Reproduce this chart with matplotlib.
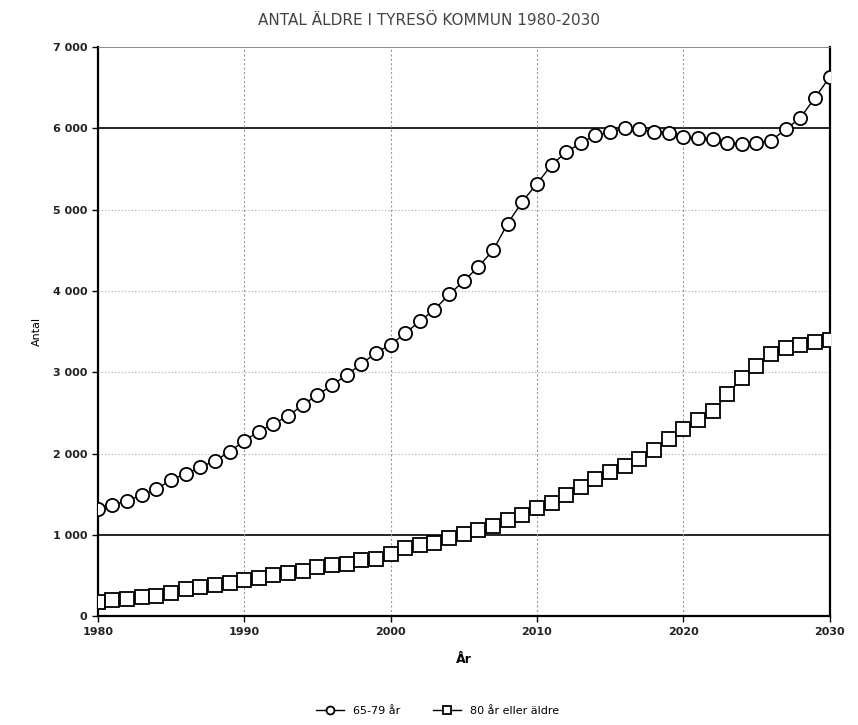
import numpy as np
import matplotlib.pyplot as plt

# antal invånare per år
years = np.arange(1980, 2031)
age_65_79 = [1320, 1370, 1420, 1490, 1560, 1680, 1750, 1830, 1915, 2020,
             2160, 2270, 2370, 2460, 2600, 2720, 2840, 2970, 3100, 3240,
             3340, 3480, 3630, 3770, 3960, 4120, 4300, 4500, 4830, 5100,
             5320, 5550, 5710, 5820, 5920, 5950, 6000, 5990, 5960, 5940,
             5890, 5880, 5870, 5820, 5810, 5820, 5850, 5990, 6130, 6380,
             6630]
age_80 = [170, 195, 210, 235, 255, 285, 330, 360, 390, 410,
          440, 465, 505, 530, 560, 610, 630, 640, 690, 710,
          770, 840, 875, 900, 960, 1010, 1060, 1110, 1185, 1245,
          1330, 1395, 1495, 1595, 1690, 1780, 1850, 1935, 2050, 2180,
          2300, 2410, 2520, 2730, 2930, 3080, 3230, 3300, 3340, 3370,
          3400]

title = 'ANTAL ÄLDRE I TYRESÖ KOMMUN 1980-2030'
labels = ['65-79 år', '80 år eller äldre']
xticks = [1980, 1990, 2000, 2010, 2020, 2030]
yticks = [0, 1000, 2000, 3000, 4000, 5000, 6000, 7000]
solid_grid = [1000, 6000]

fig = plt.figure(figsize=(8.58, 7.25), dpi=100)
ax = fig.add_axes([0.114, 0.150, 0.853, 0.785])

for y in yticks[1:-1]:
    if y in solid_grid:
        ax.axhline(y, color='black', lw=1.2, zorder=1)
    else:
        ax.axhline(y, color='#aaaaaa', lw=0.8, ls=(0, (1, 2)), zorder=1)
for x in xticks[1:-1]:
    ax.axvline(x, color='#999999', lw=0.8, ls=(0, (2, 2)), zorder=1)

ax.plot(years, age_65_79, '-', color='black', lw=1.0, marker='o', ms=9.5,
        mfc='white', mec='black', mew=1.3, label=labels[0], zorder=3)
ax.plot(years, age_80, '-', color='black', lw=1.0, marker='s', ms=10,
        mfc='white', mec='black', mew=1.3, label=labels[1], zorder=3)

ax.set_xlim(1980, 2030)
ax.set_ylim(0, 7000)
ax.set_xticks(xticks)
ax.set_yticks(yticks)
ax.set_yticklabels(['0' if v == 0 else f'{v // 1000} 000' for v in yticks])
ax.tick_params(labelsize=8, length=4, width=1, direction='out')
for lab in ax.get_xticklabels() + ax.get_yticklabels():
    lab.set_fontweight('bold')
    lab.set_color('#222222')

for s in ['left', 'right', 'bottom']:
    ax.spines[s].set_linewidth(1.6)
ax.spines['top'].set_linewidth(0.6)
ax.spines['top'].set_color('#777777')

ax.set_ylabel('Antal', fontsize=8, labelpad=8)
ax.set_xlabel('År', fontsize=9, fontweight='bold', labelpad=12)
fig.text(0.50, 0.972, title, ha='center', va='center', fontsize=11,
         color='#444444')

fig.legend(loc='center', bbox_to_anchor=(0.51, 0.019), ncol=2, frameon=False,
           fontsize=8, handlelength=2.5, columnspacing=3, markerscale=0.6)

fig.savefig('out.png', dpi=100)
